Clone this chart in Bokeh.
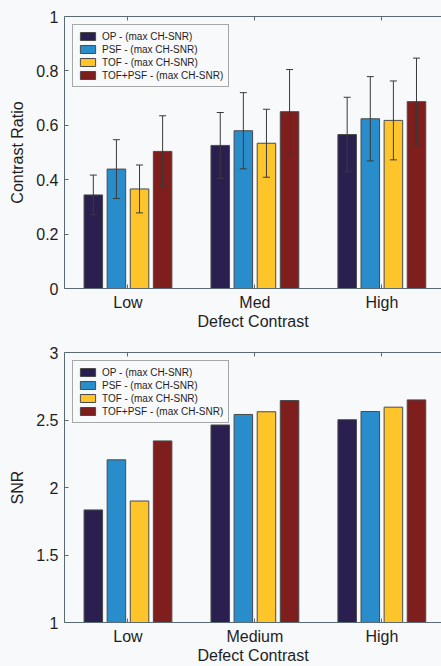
from bokeh.plotting import figure
from bokeh.layouts import column
from bokeh.models import (ColumnDataSource, Whisker, TeeHead, FixedTicker, LinearAxis,
                          Range1d, CustomJSTickFormatter, Legend, LegendItem)
from bokeh.embed import file_html
from bokeh.resources import INLINE

# ---------------- data ----------------
cat_pos = [1, 2, 3]
categories_top = ["Low", "Med", "High"]
categories_bottom = ["Low", "Medium", "High"]
series = ["OP - (max CH-SNR)", "PSF - (max CH-SNR)", "TOF - (max CH-SNR)", "TOF+PSF - (max CH-SNR)"]
colors = ["#2b1f4f", "#2a8dcb", "#fdc52a", "#7e1e1d"]

# Contrast ratio (mean) and error half-widths
cr_op = [0.344, 0.526, 0.566]
cr_psf = [0.439, 0.580, 0.624]
cr_tof = [0.366, 0.534, 0.618]
cr_tofpsf = [0.504, 0.650, 0.687]
cr_op_err = [0.073, 0.121, 0.137]
cr_psf_err = [0.108, 0.140, 0.155]
cr_tof_err = [0.088, 0.125, 0.145]
cr_tofpsf_err = [0.131, 0.155, 0.160]

# SNR
snr_op = [1.834, 2.463, 2.502]
snr_psf = [2.205, 2.541, 2.563]
snr_tof = [1.900, 2.561, 2.595]
snr_tofpsf = [2.345, 2.644, 2.649]

cr_ticks = [0, 0.2, 0.4, 0.6, 0.8, 1]
snr_ticks = [1, 1.5, 2, 2.5, 3]

# ---------------- style ----------------
BG = "#f8f9fb"
AX = "#5a6a72"
TXT = "#1e1e1e"
FONT = "Liberation Sans"
offsets = [-0.273, -0.091, 0.091, 0.273]
BAR_W = 0.146

fmt = CustomJSTickFormatter(code="return tick.toFixed(1).replace(/\\.0$/, '');")


def make_fig(height, border_top, yr, yticks, labels, ylabel, values, errors,
             lab_standoff, axlab_standoff):
    p = figure(width=441, height=height, x_range=Range1d(0.5, 3.47), y_range=Range1d(*yr),
               output_backend="svg", toolbar_location=None,
               min_border_left=64, min_border_right=0, min_border_top=border_top,
               min_border_bottom=10,
               background_fill_color=BG, border_fill_color=BG, outline_line_color=None)
    p.grid.visible = False

    p.xaxis.ticker = FixedTicker(ticks=cat_pos)
    p.xaxis.major_label_overrides = {c: l for c, l in zip(cat_pos, labels)}
    p.xaxis.axis_label = "Defect Contrast"
    p.yaxis.ticker = FixedTicker(ticks=yticks)
    p.yaxis.formatter = fmt
    p.yaxis.axis_label = ylabel
    for ax in (p.xaxis, p.yaxis):
        ax.axis_line_color = AX
        ax.major_tick_line_color = AX
        ax.major_tick_in = 4
        ax.major_tick_out = 0
        ax.minor_tick_line_color = None
        ax.major_label_text_font = FONT
        ax.major_label_text_font_size = "16px"
        ax.major_label_text_color = TXT
        ax.axis_label_text_font = FONT
        ax.axis_label_text_font_size = "16px"
        ax.axis_label_text_font_style = "normal"
        ax.axis_label_text_color = TXT
    p.xaxis.major_label_standoff = lab_standoff
    p.xaxis.axis_label_standoff = axlab_standoff
    p.yaxis.major_label_standoff = 6
    p.yaxis.axis_label_standoff = 7

    top = LinearAxis(ticker=FixedTicker(ticks=cat_pos), major_label_text_font_size="0px",
                     major_label_standoff=0, major_tick_in=4, major_tick_out=0,
                     axis_line_color=AX, major_tick_line_color=AX, minor_tick_line_color=None)
    top.major_label_overrides = {c: "" for c in cat_pos}
    p.add_layout(top, "above")

    items = []
    for i, (name, col, vals) in enumerate(zip(series, colors, values)):
        xs = [c + offsets[i] for c in cat_pos]
        src = ColumnDataSource(dict(x=xs, top=vals))
        r = p.vbar(x="x", top="top", bottom=yr[0], width=BAR_W, source=src,
                   fill_color=col, line_color="#4a4a4a", line_width=1)
        items.append(LegendItem(label=name, renderers=[r]))
    if errors is not None:
        for i, (vals, errs) in enumerate(zip(values, errors)):
            xs = [c + offsets[i] for c in cat_pos]
            src = ColumnDataSource(dict(x=xs,
                                        upper=[v + e for v, e in zip(vals, errs)],
                                        lower=[v - e for v, e in zip(vals, errs)]))
            w = Whisker(source=src, base="x", upper="upper", lower="lower",
                        line_color="#3a3a3a", line_width=1, level="annotation",
                        upper_head=TeeHead(size=7, line_color="#3a3a3a", line_width=1),
                        lower_head=TeeHead(size=7, line_color="#3a3a3a", line_width=1))
            p.add_layout(w)

    leg = Legend(items=items, location="top_left", margin=8,
                 padding=5, spacing=1,
                 glyph_width=19, glyph_height=10, label_height=12, label_standoff=5,
                 label_text_font=FONT, label_text_font_size="10px", label_text_color=TXT,
                 border_line_color="#555555", border_line_width=1,
                 background_fill_color=BG, background_fill_alpha=1)
    p.add_layout(leg)
    return p


p1 = make_fig(332, 16, (0, 1), cr_ticks, categories_top, "Contrast Ratio",
              [cr_op, cr_psf, cr_tof, cr_tofpsf],
              [cr_op_err, cr_psf_err, cr_tof_err, cr_tofpsf_err], 5, -1)
p2 = make_fig(334, 20, (1, 3), snr_ticks, categories_bottom, "SNR",
              [snr_op, snr_psf, snr_tof, snr_tofpsf], None, 5, -1)

layout = column(p1, p2, spacing=0)
layout.background = BG
open("out.html", "w").write(file_html(layout, INLINE))
